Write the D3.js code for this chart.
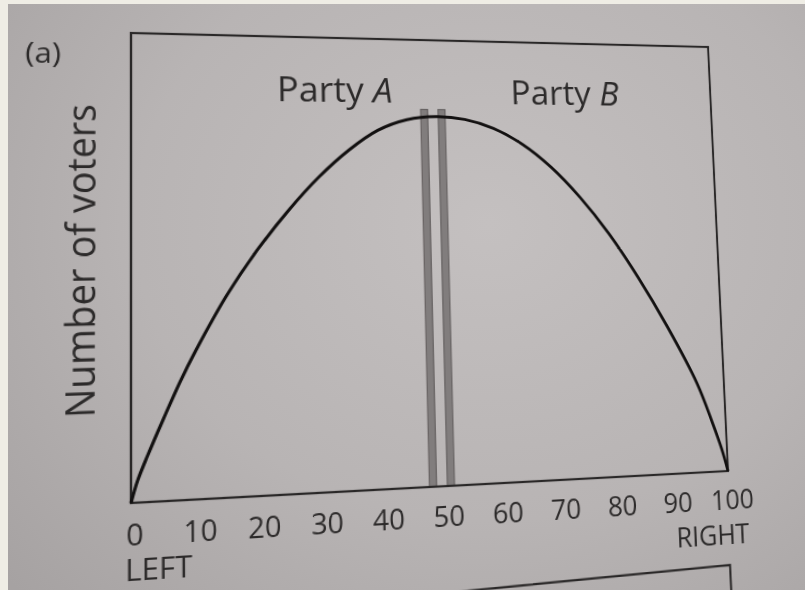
<!DOCTYPE html>
<html><head><meta charset="utf-8">
<script src="https://cdn.jsdelivr.net/npm/d3@7"></script>
<style>
html,body{margin:0;padding:0;width:805px;height:590px;overflow:hidden;background:#efede5;}
#paper{position:absolute;left:8px;top:4px;width:797px;height:586px;
  background:radial-gradient(ellipse 640px 540px at 480px 220px,#c4c0c0 0%,#b8b4b4 55%,#a6a2a2 100%);}
#chart{position:absolute;left:0;top:0;transform-origin:0 0;overflow:visible;}
</style></head><body>
<div id="paper"></div>
<svg id="chart" width="805" height="650"></svg>
<script>
// ---- data ----
const positions = [0,1,2.5,5,7.5,10,15,20,25,30,35,40,45,50,55,60,65,70,75,80,85,90,95,97.5,99,100];
const voters    = [0,4.5,9.5,17.2,24.6,31.2,43,52.8,61.2,68.5,74.5,79.1,81.6,82.4,81.8,79.8,76.2,70.9,63.9,55.4,45.2,33.6,20.4,11.3,5.2,0];
const partyPositions = [48, 51];
const partyLineTop = 84;
const partyLabels = ["A", "B"];
const partyLabelX = [33, 73];
const partyLabelY = 85.5;
const tickValues = [0,10,20,30,40,50,60,70,80,90,100];
const yLabel = "Number of voters";
const panelLabel = "(a)";
const leftLabel = "LEFT", rightLabel = "RIGHT";

// ---- layout (flat page, then photographed-perspective transform) ----
const box = {x0:131, y0:40, x1:718, y1:487};
const quad = [[131,33],[708,47],[728,471],[131,503]];

const svg = d3.select("#chart");
const x = d3.scaleLinear().domain([0,100]).range([box.x0, box.x1]);
const y = d3.scaleLinear().domain([0,100]).range([box.y1, box.y0]);

const font = "'Open Sans', 'DejaVu Sans', sans-serif";
const ink = "#2c2a2a";

// party lines
svg.append("g").selectAll("rect").data(partyPositions).join("rect")
  .attr("x", d => x(d) - 3.5).attr("width", 7)
  .attr("y", y(partyLineTop)).attr("height", y(0) - y(partyLineTop))
  .attr("fill", "#817d7d").attr("stroke", "#656161").attr("stroke-width", 1.2);

// frame
svg.append("rect").attr("x", box.x0).attr("y", box.y0)
  .attr("width", box.x1 - box.x0).attr("height", box.y1 - box.y0)
  .attr("fill", "none").attr("stroke", "#2a2828").attr("stroke-width", 2.2);

// distribution curve
const line = d3.line().x((d,i) => x(positions[i])).y(d => y(d)).curve(d3.curveCatmullRom.alpha(0.5));
svg.append("path").datum(voters).attr("d", line)
  .attr("fill", "none").attr("stroke", "#121010").attr("stroke-width", 3);

// x axis labels
const axis = d3.axisBottom(x).tickValues(tickValues).tickSize(0).tickPadding(20);
const gx = svg.append("g").attr("transform", `translate(3,${box.y1})`).call(axis);
gx.select(".domain").remove();
gx.selectAll("text").attr("font-family", font).attr("font-size", 27).attr("fill", ink);

svg.append("text").attr("x", 125.7).attr("y", 557.6).text(leftLabel)
  .attr("font-family", font).attr("font-size", 28).attr("fill", ink);
svg.append("text").attr("x", 738).attr("y", 561).attr("text-anchor", "end").text(rightLabel)
  .attr("font-family", font).attr("font-size", 27).attr("fill", ink);

// party labels
partyLabels.forEach((p, i) => {
  const t = svg.append("text").attr("x", x(partyLabelX[i])).attr("y", y(partyLabelY))
    .attr("text-anchor", "middle").attr("font-family", font).attr("font-size", 35).attr("fill", ink);
  t.append("tspan").text("Party ");
  t.append("tspan").attr("font-style", "italic").text(p);
});

// y label
svg.append("text").attr("transform", "translate(98.7,258.7) rotate(-90)")
  .attr("text-anchor", "middle").attr("font-family", font).attr("font-size", 36)
  .attr("fill", ink).text(yLabel);

// panel label
svg.append("text").attr("x", 35.4).attr("y", 70.6).text(panelLabel)
  .attr("font-family", font).attr("font-size", 28).attr("fill", ink);

// start of next panel's frame
svg.append("path").attr("d", "M380,590.5 L715.4,581.9 L715.4,660")
  .attr("fill", "none").attr("stroke", "#2a2828").attr("stroke-width", 2.2);

// ---- perspective of the photographed page ----
function squareToQuad(q) {
  const [x0,y0] = q[0], [x1,y1] = q[1], [x2,y2] = q[2], [x3,y3] = q[3];
  const dx1 = x1 - x2, dx2 = x3 - x2, dx3 = x0 - x1 + x2 - x3;
  const dy1 = y1 - y2, dy2 = y3 - y2, dy3 = y0 - y1 + y2 - y3;
  const den = dx1 * dy2 - dx2 * dy1;
  const g = (dx3 * dy2 - dx2 * dy3) / den;
  const h = (dx1 * dy3 - dx3 * dy1) / den;
  return [x1 - x0 + g * x1, x3 - x0 + h * x3, x0, y1 - y0 + g * y1, y3 - y0 + h * y3, y0, g, h];
}
const [a,b,c,d,e,f,g,h] = squareToQuad(quad);
const W = box.x1 - box.x0, H = box.y1 - box.y0;
const A = a / W, B = b / H, C = c - a * box.x0 / W - b * box.y0 / H;
const D = d / W, E = e / H, F = f - d * box.x0 / W - e * box.y0 / H;
const G = g / W, Hh = h / H, I = 1 - g * box.x0 / W - h * box.y0 / H;
svg.style("transform", `matrix3d(${A},${D},0,${G},${B},${E},0,${Hh},0,0,1,0,${C},${F},0,${I})`);
</script>
</body></html>
